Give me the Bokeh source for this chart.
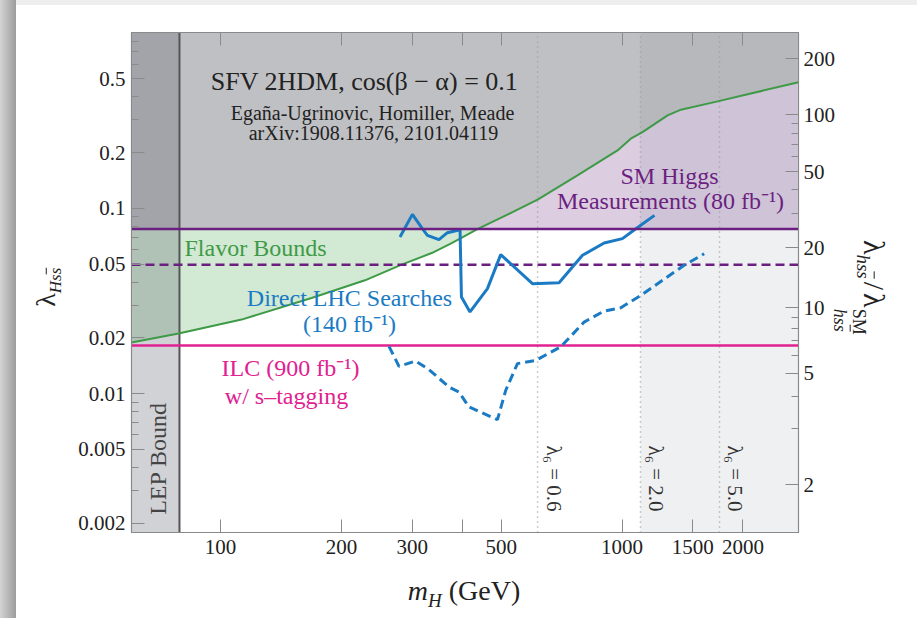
import numpy as np
from bokeh.plotting import figure
from bokeh.models import (LogAxis, FixedTicker, Range1d, Label, CustomJSTickFormatter,
                          Div, Row, Column)
from bokeh.embed import file_html
from bokeh.resources import INLINE

# ---------------- data ----------------
X_LIM = (60, 2750)
Y_LIM = (0.00178, 0.89)

x_ticks = [100, 200, 300, 400, 500, 1000, 1500, 2000]
x_tick_labels = ["100", "200", "300", "", "500", "1000", "1500", "2000"]
y_ticks = [0.002, 0.005, 0.01, 0.02, 0.05, 0.1, 0.2, 0.5]
y_tick_labels = ["0.002", "0.005", "0.01", "0.02", "0.05", "0.1", "0.2", "0.5"]
y_minor = [0.003, 0.004, 0.006, 0.007, 0.008, 0.009, 0.03, 0.04, 0.06, 0.07,
           0.08, 0.09, 0.3, 0.4, 0.6, 0.7, 0.8]
ratio_ticks = [2, 5, 10, 20, 50, 100, 200]
ratio_tick_labels = ["2", "5", "10", "20", "50", "100", "200"]
ratio_minor = [3, 4, 6, 7, 8, 9, 30, 40, 60, 70, 80, 90]
RATIO_SLOPE = 310.0   # lambda_hss/lambda_hss^SM = 1 + slope * lambda_Hss

flavor_mH = [60, 78.6, 112.8, 168.5, 228.9, 282.5, 335.6, 374.2, 394.8, 436,
             518, 617.6, 774, 974, 1051, 1124, 1298, 1401, 1729, 2750]
flavor_lam = [0.0189, 0.0211, 0.0251, 0.0328, 0.0409, 0.0497, 0.0574, 0.0645,
              0.0687, 0.0773, 0.0925, 0.1119, 0.1507, 0.2056, 0.2377, 0.2581,
              0.3177, 0.341, 0.378, 0.480]

sm_higgs_lam = 0.0773      # SM Higgs measurements (80 fb^-1), solid
sm_higgs_proj_lam = 0.0497 # dashed projection
ilc_lam = 0.0182           # ILC 900 fb^-1 with s-tagging
lep_mH = 79
lambda6_mH = [616, 1111, 1748]
lambda6_vals = ["0.6", "2.0", "5.0"]

lhc_mH = [279.8, 300.4, 318.1, 327.4, 349.9, 367.2, 394.8, 398, 418, 462, 498.5,
          598, 696.6, 796.8, 902, 1002, 1082, 1204]
lhc_lam = [0.0700, 0.0928, 0.0777, 0.0715, 0.0678, 0.0739, 0.0767, 0.0332, 0.0276,
           0.0369, 0.0563, 0.0392, 0.0397, 0.0558, 0.0650, 0.0687, 0.0777, 0.0917]

hllhc_mH = [262.7, 278.2, 306.1, 330.4, 370.7, 392.6, 415.6, 489.3, 513.1, 548.7,
            609.5, 703.6, 804.2, 902, 992.6, 1113, 1427, 1601]
hllhc_lam = [0.0180, 0.01404, 0.0150, 0.01348, 0.01085, 0.0102, 0.00847, 0.00724,
             0.01042, 0.01452, 0.01512, 0.01789, 0.02434, 0.0279, 0.0291, 0.0339,
             0.0493, 0.0569]

# ---------------- colours ----------------
GRAY_FILL = "#bfc0c3"
GREEN_FILL = "#d2e9d3"
PURPLE_FILL = "#dccde1"
GREEN = "#3f9a48"
PURPLE = "#6b1f80"
MAGENTA = "#e0218f"
BLUE = "#1a7bc4"
FONT = "Liberation Serif"

# ---------------- page geometry ----------------
W, H = 917, 618
STRIP_W, STRIP_H = 16, 5          # grey page edge (left) and top band
YLAB_W, RLAB_W, XLAB_H = 49, 77, 48
PW = W - STRIP_W - YLAB_W - RLAB_W  # figure width
PH = H - STRIP_H - XLAB_H           # figure height
FL, FT, FW, FH = 131, 32, 667, 500  # frame in page pixels
P_X0, P_Y0 = STRIP_W + YLAB_W, STRIP_H

def px_x(px):
    a, b = np.log10(X_LIM[0]), np.log10(X_LIM[1])
    return float(10 ** (a + (px - FL) / FW * (b - a)))

def px_y(py):
    a, b = np.log10(Y_LIM[0]), np.log10(Y_LIM[1])
    return float(10 ** (b - (py - FT) / FH * (b - a)))

p = figure(width=PW, height=PH, x_axis_type="log", y_axis_type="log",
           x_range=Range1d(*X_LIM), y_range=Range1d(*Y_LIM),
           output_backend="svg", toolbar_location=None,
           min_border_left=FL - P_X0, min_border_right=PW - (FL - P_X0) - FW,
           min_border_top=FT - P_Y0, min_border_bottom=PH - (FT - P_Y0) - FH,
           margin=0)
p.grid.visible = False
p.outline_line_color = "#8a8a8a"
p.outline_line_width = 1.2
p.background_fill_color = "white"
p.border_fill_color = "white"

def fmt(vals, labs):
    return CustomJSTickFormatter(args=dict(vals=vals, labs=labs), code="""
        let best = 0, d = 1e9;
        for (let i = 0; i < vals.length; i++) {
            const e = Math.abs(Math.log(vals[i]) - Math.log(tick));
            if (e < d) { d = e; best = i; }
        }
        return labs[best];
    """)

def style_axis(ax):
    ax.axis_line_color = "#8a8a8a"
    ax.major_tick_line_color = "#8a8a8a"
    ax.minor_tick_line_color = "#8a8a8a"
    ax.major_tick_in = 13
    ax.major_tick_out = 0
    ax.minor_tick_in = 7
    ax.minor_tick_out = 0
    ax.major_label_text_font = FONT
    ax.major_label_text_font_size = "21px"
    ax.major_label_text_color = "#222222"

xa = p.xaxis[0]
xa.ticker = FixedTicker(ticks=x_ticks)
xa.formatter = fmt(x_ticks, x_tick_labels)
style_axis(xa)
xa.major_label_standoff = 7
ya = p.yaxis[0]
ya.ticker = FixedTicker(ticks=y_ticks, minor_ticks=y_minor)
ya.formatter = fmt(y_ticks, y_tick_labels)
style_axis(ya)
ya.major_label_standoff = 6
top = LogAxis(ticker=FixedTicker(ticks=x_ticks),
              formatter=CustomJSTickFormatter(code="return '';"))
style_axis(top)
top.major_label_standoff = 0
p.add_layout(top, "above")
r_pos = [(r - 1) / RATIO_SLOPE for r in ratio_ticks]
r_min = [(r - 1) / RATIO_SLOPE for r in ratio_minor]
right = LogAxis(ticker=FixedTicker(ticks=r_pos, minor_ticks=r_min),
                formatter=fmt(r_pos, ratio_tick_labels))
style_axis(right)
right.major_label_standoff = 5
p.add_layout(right, "right")

# ---------------- fills ----------------
fx = np.array(flavor_mH, dtype=float)
fy = np.array(flavor_lam, dtype=float)
p.varea(x=fx, y1=np.maximum(fy, sm_higgs_lam), y2=Y_LIM[1], fill_color=GRAY_FILL)
mg = fy <= sm_higgs_lam
p.varea(x=fx[mg], y1=fy[mg], y2=sm_higgs_lam, fill_color=GREEN_FILL)
mp = fy >= sm_higgs_lam
p.varea(x=fx[mp], y1=sm_higgs_lam, y2=fy[mp], fill_color=PURPLE_FILL)

p.varea(x=[X_LIM[0], lep_mH], y1=Y_LIM[0], y2=Y_LIM[1],
        fill_color="#5a5f6a", fill_alpha=0.28)
p.varea(x=[lambda6_mH[1], X_LIM[1]], y1=Y_LIM[0], y2=Y_LIM[1],
        fill_color="#6e7385", fill_alpha=0.11)

p.line(x=[lep_mH, lep_mH], y=list(Y_LIM), line_color="#555555", line_width=2)
for xv in lambda6_mH:
    p.line(x=[xv, xv], y=list(Y_LIM), line_color="#9a9a9a", line_width=1.5,
           line_dash="1 4")

p.line(fx, fy, line_color=GREEN, line_width=2)
p.line(x=list(X_LIM), y=[sm_higgs_proj_lam] * 2, line_color=PURPLE, line_width=2.5,
       line_dash="9 5")
p.line(x=list(X_LIM), y=[ilc_lam] * 2, line_color=MAGENTA, line_width=2.5)
p.line(hllhc_mH, hllhc_lam, line_color=BLUE, line_width=3, line_dash="9 5")
p.line(lhc_mH, lhc_lam, line_color=BLUE, line_width=3)
p.line(x=list(X_LIM), y=[sm_higgs_lam] * 2, line_color=PURPLE, line_width=2.5)

# ---------------- in-plot texts ----------------
def txt(text, px, py, size, color="#222222", align="center", angle=0.0,
        style="normal", baseline="middle"):
    p.add_layout(Label(x=px_x(px), y=px_y(py), text=text, text_font=FONT,
                       text_font_size=f"{size}px", text_color=color,
                       text_align=align, text_baseline=baseline, angle=angle,
                       text_font_style=style))

txt("SFV 2HDM, cos(β − α) = 0.1", 364, 81, 26)
txt("Egaña-Ugrinovic, Homiller, Meade", 372, 112, 20)
txt("arXiv:1908.11376, 2101.04119", 373, 132, 20)
txt("Flavor Bounds", 184, 247, 24, GREEN, align="left")
txt("Direct LHC Searches", 349, 297, 24, BLUE)
txt("(140 fb⁻¹)", 349, 323, 24, BLUE)
txt("SM Higgs", 669, 175, 24, PURPLE)
txt("Measurements (80 fb⁻¹)", 670, 200, 24, PURPLE)
txt("ILC (900 fb⁻¹)", 290, 367, 24, MAGENTA)
txt("w/ s–tagging", 286, 395, 24, MAGENTA)
txt("LEP Bound", 157, 458, 24, "#444444", angle=np.pi / 2)
for xv, lv in zip(lambda6_mH, lambda6_vals):
    pxv = FL + (np.log10(xv) - np.log10(X_LIM[0])) / (np.log10(X_LIM[1]) - np.log10(X_LIM[0])) * FW
    txt(f"λ₆ = {lv}", pxv + 16, 478, 21, "#333333", angle=-np.pi / 2)

# ---------------- axis titles as HTML ----------------
def title_div(inner, w, h, dx, dy, rot, size=28):
    html = (f'<div style="width:{w}px;height:{h}px;display:flex;align-items:center;'
            f'justify-content:center;overflow:visible;">'
            f'<span style="display:inline-block;white-space:nowrap;font-family:\'{FONT}\';'
            f'font-size:{size}px;color:#222;line-height:1;'
            f'transform:translate({dx}px,{dy}px) rotate({rot}deg);">{inner}</span></div>')
    return Div(text=html, width=w, height=h, margin=0,
               styles={"background-color": "white", "overflow": "visible"})

SBAR = '<span style="text-decoration:overline;">s</span>'
ylab_html = f'λ<sub style="font-size:17px;font-style:italic;">Hs{SBAR}</sub>'
rlab_html = (f'λ<sub style="font-size:19px;font-style:italic;">hs{SBAR}</sub>'
             '<span style="margin:0 3px;">/</span>λ'
             '<span style="display:inline-flex;flex-direction:column;vertical-align:-0.6em;'
             'font-size:18px;line-height:1.05;margin-left:1px;"><span>SM</span>'
             f'<span style="font-style:italic;">hs{SBAR}</span></span>')
xlab_html = '<i>m</i><sub style="font-size:19px;font-style:italic;">H</sub> (GeV)'

ylab = title_div(ylab_html, YLAB_W, PH, 7.5, 0, -90)
rlab = title_div(rlab_html, RLAB_W, PH, -19, 0, 90, size=30)
xlab = title_div(xlab_html, W - STRIP_W, XLAB_H, -2.5, -1, 0)

left_strip = Div(text="", width=STRIP_W, height=H, margin=0,
                 styles={"background": "linear-gradient(to right, #d4d4d4, #9c9c9c)"})
top_strip = Div(text="", width=W - STRIP_W, height=STRIP_H, margin=0,
                styles={"background-color": "#eeeeee"})

layout = Row(children=[left_strip,
                       Column(children=[top_strip,
                                        Row(children=[ylab, p, rlab], spacing=0, margin=0),
                                        xlab], spacing=0, margin=0)],
             spacing=0, margin=0)

open("out.html", "w").write(file_html(layout, INLINE))
